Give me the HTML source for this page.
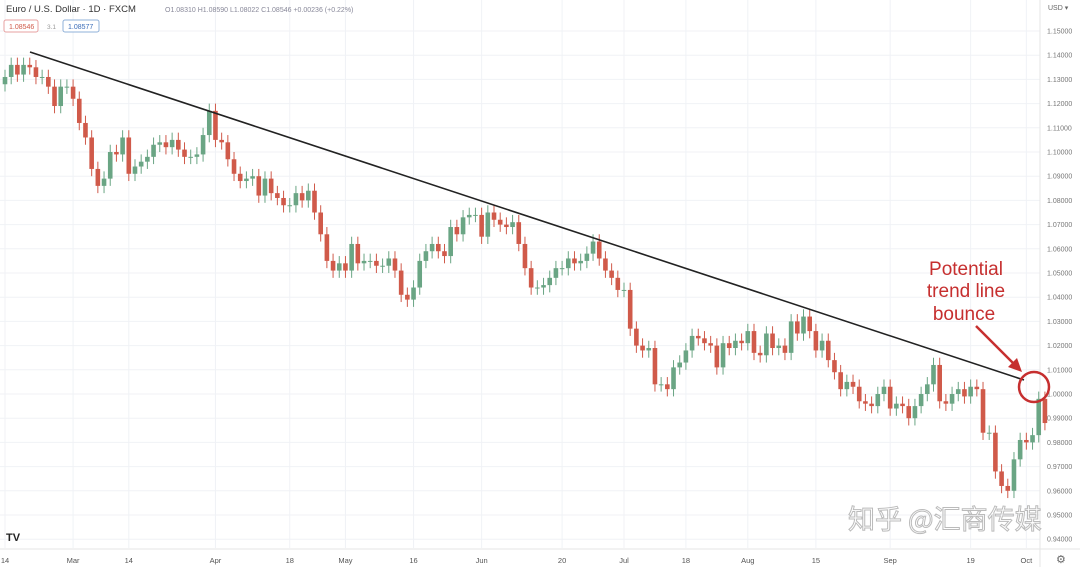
<!DOCTYPE html>
<html><head><meta charset="utf-8"><style>
body{margin:0;background:#fff;width:1080px;height:567px;overflow:hidden;font-family:"Liberation Sans",sans-serif}
svg{display:block}
</style></head><body>
<svg id="chart" width="1080" height="567" xmlns="http://www.w3.org/2000/svg">
<g id="grid"></g>
<g id="candles"></g>
<line x1="30" y1="52" x2="1024" y2="380" stroke="#222" stroke-width="1.6"/>
<g id="yaxis"></g>
<g id="xaxis"></g>
<text x="6" y="12" font-size="9.5" fill="#333">Euro / U.S. Dollar · 1D · FXCM</text>
<text x="165" y="12" font-size="7" fill="#889">O1.08310 H1.08590 L1.08022 C1.08546 +0.00236 (+0.22%)</text>
<rect x="4" y="20" width="34" height="12" rx="2" fill="#fff" stroke="#e7a0a0"/>
<text x="9" y="29" font-size="7" fill="#d05a4a">1.08546</text>
<text x="47" y="29" font-size="6.5" fill="#999">3.1</text>
<rect x="63" y="20" width="36" height="12" rx="2" fill="#fff" stroke="#8fb0d8"/>
<text x="68" y="29" font-size="7" fill="#3a6cb8">1.08577</text>
<text x="1048" y="10" font-size="7" fill="#666">USD ▾</text>
<text x="6" y="541" font-size="11" font-weight="bold" fill="#222">TV</text>
<text x="1056" y="563" font-size="11" fill="#666">⚙</text>
<g fill="#c62f2f" font-size="19" text-anchor="middle">
<text x="966" y="275">Potential</text>
<text x="966" y="297">trend line</text>
<text x="964" y="320">bounce</text>
</g>
<line x1="976" y1="326" x2="1016" y2="366" stroke="#c62f2f" stroke-width="2.5"/>
<polygon points="1022,372 1008,367 1017,358" fill="#c62f2f"/>
<circle cx="1034" cy="387" r="15" fill="none" stroke="#c62f2f" stroke-width="2.5"/>
<text x="848" y="529" font-size="27" fill="none" stroke="#bbb" stroke-width="1" font-family="'Noto Sans CJK SC',sans-serif">知乎 @汇商传媒</text>
</svg>
<script>
const closes=[1.131,1.136,1.132,1.136,1.135,1.131,1.131,1.127,1.119,1.127,1.127,
1.122,1.112,1.106,1.093,1.086,1.089,1.100,1.099,1.106,1.091,1.094,1.096,1.098,1.103,1.104,1.102,1.105,1.101,1.098,1.098,1.099,1.107,1.117,
1.105,1.104,1.097,1.091,1.088,1.089,1.090,1.082,1.089,1.083,1.081,1.078,1.078,1.083,1.080,1.084,1.075,1.066,1.055,1.051,1.054,
1.051,1.062,1.054,1.055,1.055,1.053,1.053,1.056,1.051,1.041,1.039,1.044,1.055,1.059,1.062,1.059,1.057,1.069,1.066,1.073,1.074,1.074,
1.065,1.075,1.072,1.070,1.069,1.071,1.062,1.052,1.044,1.044,1.045,1.048,1.052,1.052,1.056,1.054,1.055,1.058,1.063,1.056,1.051,1.048,
1.043,1.043,1.027,1.020,1.018,1.019,1.004,1.004,1.002,1.011,1.013,1.018,1.024,1.023,1.021,1.020,1.011,1.021,1.019,1.022,1.021,
1.026,1.017,1.016,1.025,1.019,1.020,1.017,1.030,1.025,1.032,1.026,1.018,1.022,1.014,1.009,1.002,1.005,1.003,0.997,0.996,0.995,1.000,1.003,
0.994,0.996,0.995,0.990,0.995,1.000,1.004,1.012,0.997,0.996,1.000,1.002,0.999,1.003,1.002,0.984,0.984,0.968,0.962,0.960,0.973,0.981,
0.980,0.983,0.998,0.988];
const firstOpen=1.128;
const priceTicks=[1.15,1.14,1.13,1.12,1.11,1.10,1.09,1.08,1.07,1.06,1.05,1.04,1.03,1.02,1.01,1.00,0.99,0.98,0.97,0.96,0.95,0.94];
const timeLabels=["14","Mar","14","Apr","18","May","16","Jun","20","Jul","18","Aug","15","Sep","19","Oct"];
const timeIdx=[0,11,20,34,46,55,66,77,90,100,110,120,131,143,156,165];
const NS="http://www.w3.org/2000/svg";
const y=p=>394-(p-1)*2420;
const x=i=>5+i*6.19;
function mk(t,a,parent){const e=document.createElementNS(NS,t);for(const k in a)e.setAttribute(k,a[k]);parent.appendChild(e);return e;}
const grid=document.getElementById('grid'),ya=document.getElementById('yaxis'),xa=document.getElementById('xaxis'),cg=document.getElementById('candles');
priceTicks.forEach(p=>{
 const l=mk('line',{x1:0,x2:1040,y1:y(p),y2:y(p),stroke:'#f0f2f6'},grid);
 
 
 const t=mk('text',{x:1047,y:y(p)+2.5,'font-size':7,fill:'#777'},ya);t.textContent=p.toFixed(5);
 
 
});
timeLabels.forEach((s,k)=>{
 const xx=x(timeIdx[k]);
 const l=mk('line',{x1:xx,x2:xx,y1:0,y2:548,stroke:'#f0f2f6'},grid);
 
 
 const t=mk('text',{x:xx,y:563,'font-size':7.5,fill:'#555','text-anchor':'middle'},xa);t.textContent=s;
 
 
});
const ax=mk('line',{x1:1040,x2:1040,y1:0,y2:567,stroke:'#e6e6e6'},grid);


const bx=mk('line',{x1:0,x2:1080,y1:549,y2:549,stroke:'#e6e6e6'},grid);


closes.forEach((c,i)=>{
 const o=i?closes[i-1]:firstOpen;
 const up=c>=o, col=up?'#6aa584':'#d05a4a';
 const hi=Math.max(o,c)+0.003, lo=Math.min(o,c)-0.003;
 const xx=x(i);
 const w=mk('line',{x1:xx,x2:xx,y1:y(hi),y2:y(lo),stroke:col,'stroke-width':1},cg);
 
 
 const top=y(Math.max(o,c)),h=Math.max(1,y(Math.min(o,c))-top);
 const b=mk('rect',{x:xx-2.3,y:top,width:4.6,height:h,fill:col},cg);
 
 
});
</script>
</body></html>
